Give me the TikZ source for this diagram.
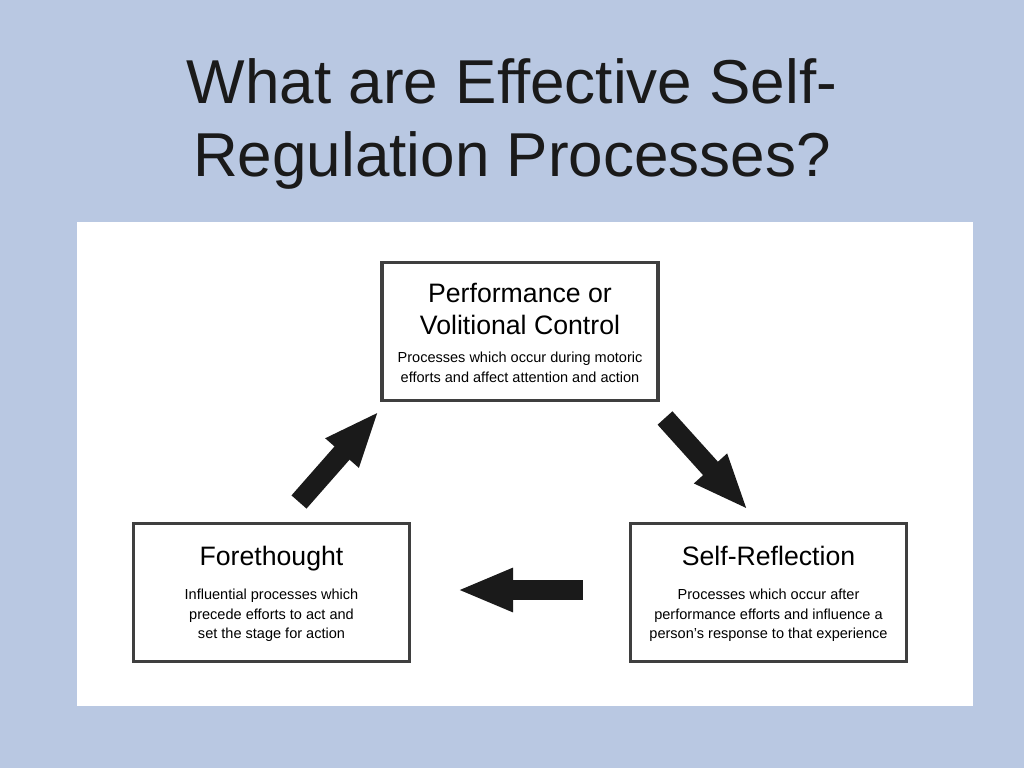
\documentclass[tikz,border=0pt]{standalone}
\usepackage{fontspec}
\setmainfont{Liberation Sans}
\usetikzlibrary{positioning,arrows.meta}
\definecolor{slidebg}{HTML}{B9C8E2}
\definecolor{frame}{HTML}{3F3F3F}
\definecolor{ink}{HTML}{1A1A1A}
\tikzset{
  slidetitle/.style={align=center, inner sep=0pt, text=ink,
    font=\fontsize{46.5pt}{55pt}\selectfont},
  phase/.style={draw=frame, line width=2.3pt, fill=white,
    minimum width=207pt, minimum height=103pt},
  phasename/.style={align=center, inner sep=0pt,
    font=\fontsize{20pt}{24pt}\selectfont},
  phasetext/.style={align=center, inner sep=0pt,
    font=\fontsize{10.9pt}{14.6pt}\selectfont},
  flow/.style={draw=ink, line width=15pt,
    -{Triangle[length=42pt,width=30pt]}}
}
\begin{document}
\begin{tikzpicture}[x=0.75pt,y=-0.75pt]
\fill[slidebg] (0,0) rectangle (1024,768);
\fill[white] (77,222) rectangle (973,706);
\useasboundingbox (0,0) rectangle (1024,768);

\node[slidetitle] (title) at (512,124) {What are Effective Self-\\Regulation Processes?};

% the three phases
\node[phase] (perf) at (520,331.5) {};
\node[phase] (fore) at (271.5,592.5) {};
\node[phase] (refl) at (768.5,592.5) {};

\node[phasename, below=16pt of perf.north] (perfname) {Performance or\\Volitional Control};
\node[phasetext, below=68pt of perf.north] (perftext) {Processes which occur during motoric\\efforts and affect attention and action};

\node[phasename, below=18pt of fore.north] (forename) {Forethought};
\node[phasetext, below=50pt of fore.north] (foretext) {Influential processes which\\precede efforts to act and\\set the stage for action};

\node[phasename, below=18pt of refl.north] (reflname) {Self-Reflection};
\node[phasetext, below=50pt of refl.north] (refltext) {Processes which occur after\\performance efforts and influence a\\person’s response to that experience};

% cycle arrows
\coordinate (up0) at (299,502);
\coordinate (up1) at (379,411);
\coordinate (down0) at (665,418);
\coordinate (down1) at (748,510);
\coordinate (back0) at (583,590);
\coordinate (back1) at (457,590);
\draw[flow] (up0) -- (up1);
\draw[flow] (down0) -- (down1);
\draw[flow] (back0) -- (back1);
\end{tikzpicture}
\end{document}
